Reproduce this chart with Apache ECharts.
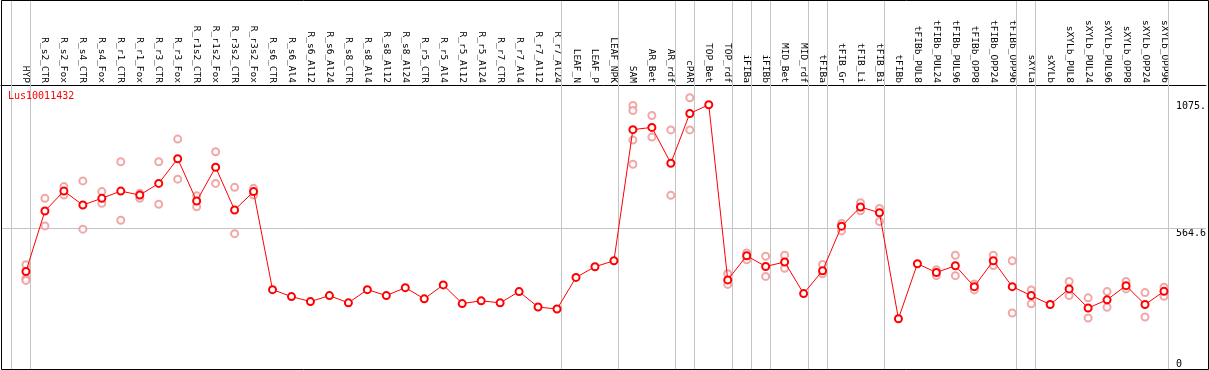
<!DOCTYPE html>
<html>
<head>
<meta charset="utf-8">
<script src="https://cdn.jsdelivr.net/npm/echarts@6/dist/echarts.min.js"></script>
<style>
  html, body { margin: 0; padding: 0; background: #fff; }
  #chart { width: 1209px; height: 370px; }
</style>
</head>
<body>
<div id="chart"></div>
<script>
const categories = [
  'HYP','R_s2_CTR','R_s2_Fox','R_s4_CTR','R_s4_Fox','R_r1_CTR','R_r1_Fox','R_r3_CTR','R_r3_Fox',
  'R_r1s2_CTR','R_r1s2_Fox','R_r3s2_CTR','R_r3s2_Fox','R_s6_CTR','R_s6_Al4','R_s6_Al12','R_s6_Al24',
  'R_s8_CTR','R_s8_Al4','R_s8_Al12','R_s8_Al24','R_r5_CTR','R_r5_Al4','R_r5_Al12','R_r5_Al24',
  'R_r7_CTR','R_r7_Al4','R_r7_Al12','R_r7_Al24','LEAF_N','LEAF_P','LEAF_NPK','SAM','AR_Bet','AR_rdf',
  'cPAR','TOP_Bet','TOP_rdf','iFIBa','iFIBb','MID_Bet','MID_rdf','tFIBa','tFIB_Gr','tFIB_Li','tFIB_Bi',
  'tFIBb','tFIBb_PUL8','tFIBb_PUL24','tFIBb_PUL96','tFIBb_OPP8','tFIBb_OPP24','tFIBb_OPP96',
  'sXYLa','sXYLb','sXYLb_PUL8','sXYLb_PUL24','sXYLb_PUL96','sXYLb_OPP8','sXYLb_OPP24','sXYLb_OPP96'
];

const meanValues = [
  392, 635, 715, 659, 686, 715, 699, 746, 845,
  675, 811, 639, 713, 319, 291, 271, 295,
  266, 319, 295, 327, 282, 338, 263, 274,
  266, 311, 249, 241, 368, 411, 435, 962, 971, 827,
  1027, 1062, 358, 455, 412, 430, 303, 395, 574, 651, 628,
  202, 423, 388, 415, 331, 435, 331,
  295, 259, 322, 245, 278, 335, 259, 312
];

const rep1 = [
  419, 686, 733, 756, 713, 833, 706, 833, 924,
  696, 873, 730, 726, null, null, null, null,
  null, null, null, null, null, null, null, null,
  null, null, null, null, null, null, null, 1059, 1019, 961,
  1090, null, 383, 466, 453, 457, null, 420, 585, 668, 645,
  null, null, 399, 457, 342, 457, 435,
  318, null, 352, 286, 311, 352, 307, 329
];

const rep2 = [
  364, 575, 699, 562, 666, 598, 686, 662, 763,
  652, 746, 544, 699, null, null, null, null,
  null, null, null, null, null, null, null, null,
  null, null, null, null, null, null, null, 823, 932, 698,
  961, null, 340, 439, 372, 405, null, 383, 555, 636, 593,
  null, null, 375, 375, 318, 416, 225,
  262, null, 295, 205, 248, 322, 209, 292
];

const rep3 = [
  356, null, null, null, null, null, null, null, null,
  null, null, null, null, null, null, null, null,
  null, null, null, null, null, null, null, null,
  null, null, null, null, null, null, null, 1039, null, null,
  null, null, null, null, null, null, null, null, null, null, null,
  null, null, null, null, null, null, null,
  null, null, null, null, null, null, null, null
];

const rep4 = [
  null, null, null, null, null, null, null, null, null,
  null, null, null, null, null, null, null, null,
  null, null, null, null, null, null, null, null,
  null, null, null, null, null, null, null, 920, null, null,
  null, null, null, null, null, null, null, null, null, null, null,
  null, null, null, null, null, null, null,
  null, null, null, null, null, null, null, null
];

// sample groups end after these category indices (-1 = before the first one)
const groupEnds = [-1, 0, 28, 31, 34, 35, 37, 38, 39, 41, 42, 45, 52, 53, 60];

const yTickValues = [0, 564.6, 1075];
const yTickLabels = ['0', '564.6', '1075.'];
const geneName = 'Lus10011432';

// ---------------------------------------------------------------
const W = 1209;
const STEP = 19;            // px per category
const FIRST_X = 26;         // px of first category centre
const LEFT = 1, RIGHT_EDGE = 1208;
const xMin = (LEFT - FIRST_X) / STEP;
const xMax = xMin + (RIGHT_EDGE - LEFT) / STEP;
const lineOffset = 4.5 / STEP;

const meanData = meanValues.map((v, i) => [i, v]);
const repData = [];
[rep1, rep2, rep3, rep4].forEach(arr => arr.forEach((v, i) => { if (v != null) repData.push([i, v]); }));

const mono = 'DejaVu Sans Mono';

const chart = echarts.init(document.getElementById('chart'), null, { renderer: 'canvas' });
chart.setOption({
  animation: false,
  backgroundColor: '#ffffff',
  title: {
    text: geneName,
    left: 8,
    top: 91,
    padding: 0,
    textStyle: { color: '#ff0000', fontSize: 10, fontFamily: mono, fontWeight: 'normal' }
  },
  grid: { left: LEFT, right: W - RIGHT_EDGE, top: 0, bottom: 1, containLabel: false },
  xAxis: {
    type: 'value',
    min: xMin,
    max: xMax,
    position: 'top',
    offset: -85,
    axisLine: { show: true, onZero: false, lineStyle: { color: '#000', width: 1 } },
    axisTick: { show: false },
    splitLine: { show: false },
    axisLabel: {
      customValues: categories.map((c, i) => i),
      formatter: v => categories[Math.round(v)] || '',
      rotate: 90,
      margin: 2,
      fontFamily: mono,
      fontSize: 9.5,
      color: '#000'
    }
  },
  yAxis: {
    type: 'value',
    min: 0,
    max: 1483,
    position: 'right',
    axisLine: { show: false },
    axisTick: { show: false },
    splitLine: { show: false },
    axisLabel: {
      customValues: yTickValues,
      formatter: v => yTickLabels[yTickValues.indexOf(v)],
      inside: true,
      margin: 30,
      align: 'left',
      verticalAlign: 'top',
      verticalAlignMinLabel: 'bottom',
      lineHeight: 10,
      fontFamily: mono,
      fontSize: 10,
      color: '#000'
    }
  },
  series: [
    {
      type: 'scatter',
      z: 2,
      data: repData,
      symbol: 'emptyCircle',
      symbolSize: 7,
      itemStyle: { color: '#ee9191', borderWidth: 1.5 },
      silent: true,
      markLine: {
        z: 1,
        silent: true,
        precision: 6,
        symbol: 'none',
        label: { show: false },
        lineStyle: { color: '#c4c4c4', width: 1, type: 'solid' },
        data: groupEnds.map(i => ({ xAxis: i + lineOffset })).concat([{ yAxis: yTickValues[1] }])
      }
    },
    {
      type: 'line',
      z: 3,
      data: meanData,
      symbol: 'emptyCircle',
      symbolSize: 7,
      lineStyle: { color: '#ff0000', width: 1 },
      itemStyle: { color: '#ff0000', borderWidth: 1.7 },
      silent: true
    }
  ],
  graphic: [
    {
      type: 'rect',
      z: 100,
      silent: true,
      shape: { x: 1.5, y: 0.5, width: 1207, height: 369 },
      style: { fill: null, stroke: '#000', lineWidth: 1 }
    }
  ]
});
</script>
</body>
</html>
